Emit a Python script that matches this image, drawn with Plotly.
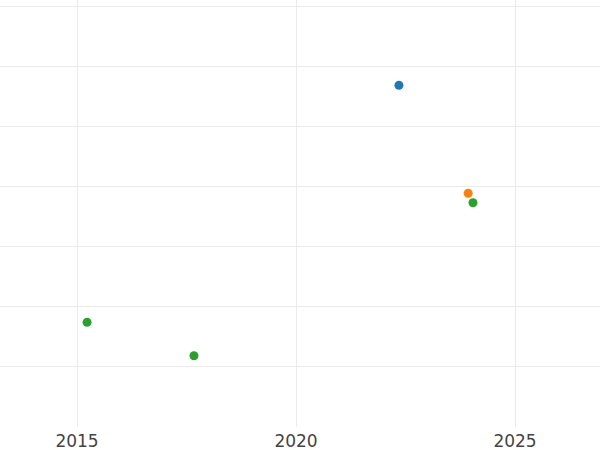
import plotly.graph_objects as go

# Data
blue_x = [2022.35]
blue_y = [5.68]
orange_x = [2023.93]
orange_y = [3.88]
green_x = [2015.23, 2017.67, 2024.04]
green_y = [1.73, 1.17, 3.72]

x_ticks = [2015, 2020, 2025]

fig = go.Figure()
for xs, ys, col in [(blue_x, blue_y, "#1f77b4"),
                    (orange_x, orange_y, "#ff7f0e"),
                    (green_x, green_y, "#2ca02c")]:
    fig.add_trace(go.Scatter(x=xs, y=ys, mode="markers",
                             marker=dict(color=col, size=9),
                             showlegend=False))

fig.update_layout(
    width=600, height=450,
    margin=dict(l=0, r=0, t=0, b=23),
    paper_bgcolor="white", plot_bgcolor="white",
    font=dict(family="DejaVu Sans", size=17, color="#444"),
    xaxis=dict(range=[2013.242, 2026.94], tickvals=x_ticks,
               showgrid=True, gridcolor="#ebebeb", gridwidth=1,
               zeroline=False, showline=False, ticks="",
               ticklabelstandoff=2),
    yaxis=dict(range=[-1/60, 426/60], dtick=1, showticklabels=False,
               showgrid=True, gridcolor="#ebebeb", gridwidth=1,
               zeroline=False, showline=False, ticks=""),
)
fig.write_html("out.html", config={"displayModeBar": False},
               post_script="document.body.style.margin='0';document.body.style.overflow='hidden';")
